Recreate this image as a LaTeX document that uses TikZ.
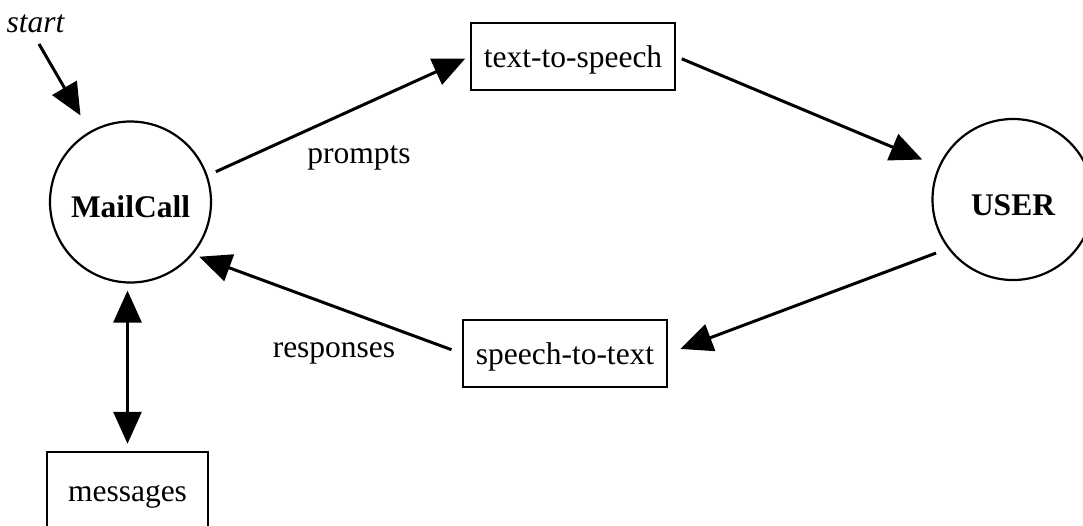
\documentclass[tikz,border=0pt]{standalone}
\usepackage{fontspec}
\setmainfont{Liberation Serif}
\usetikzlibrary{arrows.meta}
\begin{document}
\begin{tikzpicture}[x=1pt,y=1pt,
  every node/.style={font=\fontsize{31.5}{36}\selectfont},
  state/.style={circle, draw, line width=2.2pt, minimum size=161pt, inner sep=0pt, text height=31pt, text depth=0pt, font=\fontsize{31.5}{36}\selectfont\bfseries},
  proc/.style={rectangle, draw, line width=2.4pt, minimum width=204pt, minimum height=67pt, inner sep=0pt, text height=21pt, text depth=0pt},
  lbl/.style={anchor=base, inner sep=0pt},
  conn/.style={line width=3pt, -{Triangle[length=32pt,width=28pt]}},
  biconn/.style={line width=3pt, {Triangle[length=32pt,width=28pt]}-{Triangle[length=32pt,width=28pt]}},
]
\useasboundingbox (0,0) rectangle (1083,-525);
\clip (0,0) rectangle (1083,-525);
\node[state] (mc) at (130.5,-202) {MailCall};
\node[state] (user) at (1013,-199.5) {USER};
\node[proc] (tts) at (573,-56.5) {text-to-speech};
\node[proc] (stt) at (565,-353.5) {speech-to-text};
\node[proc, minimum width=161pt, minimum height=78pt] (msg) at (127.5,-491) {messages};
\node[lbl, font=\fontsize{31.5}{36}\selectfont\itshape] (startlbl) at (35.5,-32) {start};
\coordinate (s0) at (39,-44);
\node[lbl] (prompts) at (359,-163) {prompts};
\node[lbl] (responses) at (334,-357) {responses};
\draw[conn, shorten <=9pt, shorten >=5pt] (mc.19.2) -- (tts.west);
\draw[conn, shorten <=6pt, shorten >=17.6pt] (tts.east) -- (user.156.6);
\draw[conn, shorten <=12.6pt, shorten >=13pt] (user.217.2) -- (stt.east);
\draw[conn, shorten <=11pt, shorten >=6.6pt] (stt.west) -- (mc.-40.4);
\draw[conn, shorten >=18.3pt] (s0) -- (mc.120.1);
\draw[biconn, shorten <=7pt, shorten >=7pt] (msg.north) -- (msg.north |- mc.south);
\end{tikzpicture}
\end{document}
